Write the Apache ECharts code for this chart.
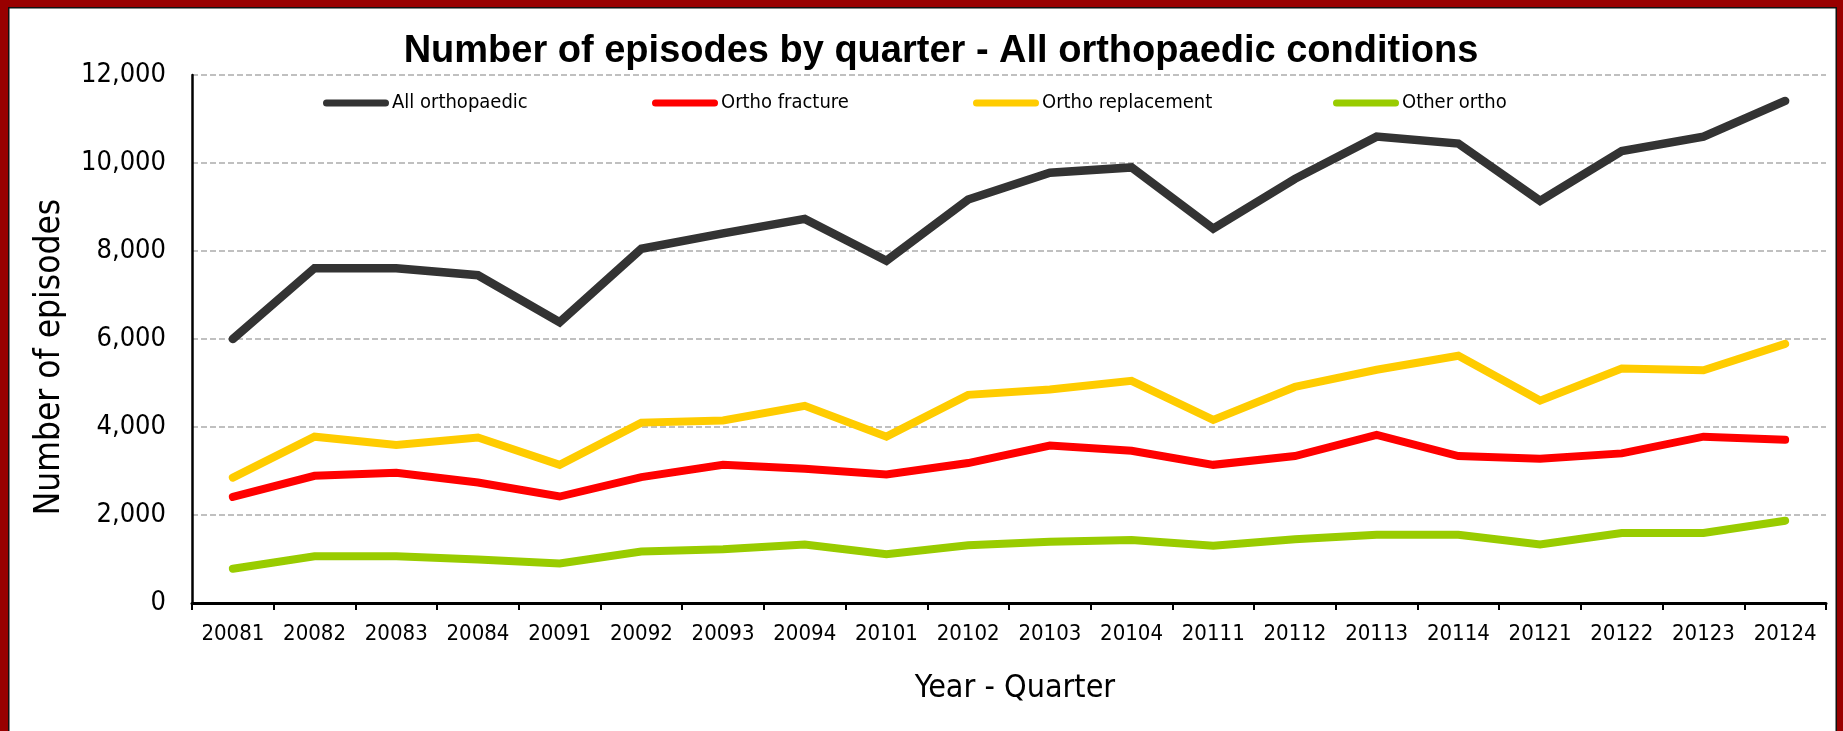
<!DOCTYPE html>
<html>
<head>
<meta charset="utf-8">
<title>Number of episodes by quarter</title>
<script src="https://cdn.jsdelivr.net/npm/echarts@6/dist/echarts.min.js"></script>
<style>
  html, body { margin: 0; padding: 0; background: #ffffff; }
  #chart { width: 1843px; height: 731px; }
</style>
</head>
<body>
<div id="chart"></div>
<script>
// Quarters (year + quarter number)
const categories = ['20081','20082','20083','20084','20091','20092','20093','20094','20101','20102',
                    '20103','20104','20111','20112','20113','20114','20121','20122','20123','20124'];

// Episodes per quarter
const allOrthopaedic   = [6000, 7610, 7610, 7450, 6380, 8050, 8400, 8730, 7780, 9170,
                          9780, 9900, 8510, 9640, 10600, 10440, 9140, 10270, 10600, 11410];
const orthoFracture    = [2410, 2890, 2960, 2740, 2420, 2860, 3140, 3050, 2920, 3180,
                          3580, 3460, 3140, 3340, 3820, 3340, 3280, 3400, 3780, 3710];
const orthoReplacement = [2850, 3780, 3590, 3760, 3140, 4100, 4150, 4480, 3780, 4730,
                          4850, 5050, 4160, 4910, 5300, 5620, 4600, 5330, 5290, 5890];
const otherOrtho       = [780, 1060, 1060, 990, 900, 1170, 1220, 1330, 1110, 1310,
                          1390, 1430, 1300, 1450, 1550, 1550, 1330, 1590, 1590, 1870];

const seriesNames  = ['All orthopaedic', 'Ortho fracture', 'Ortho replacement', 'Other ortho'];
const seriesColors = ['#333333', '#ff0000', '#ffcc00', '#99cc00'];
const seriesData   = [allOrthopaedic, orthoFracture, orthoReplacement, otherOrtho];
const yTicks = { min: 0, max: 12000, interval: 2000 };

const NARROW = "'Liberation Sans Narrow', 'Arial Narrow', 'DejaVu Sans Condensed', 'Liberation Sans', sans-serif";
const BOLD = "'Liberation Sans', Arial, sans-serif";

const legendLeft = [318, 647, 968, 1328];
const legendIcon = 'path://M3.5,0 L62.5,0 A3.5,3.5 0 0 1 62.5,7 L3.5,7 A3.5,3.5 0 0 1 3.5,0 Z';

const chart = echarts.init(document.getElementById('chart'), null, { renderer: 'canvas' });

const option = {
  backgroundColor: '#ffffff',
  animation: false,
  title: {
    text: 'Number of episodes by quarter - All orthopaedic conditions',
    left: 936,
    textAlign: 'center',
    top: 28,
    textStyle: { fontFamily: BOLD, fontWeight: 'bold', fontSize: 38, color: '#000000' }
  },
  legend: seriesNames.map((name, i) => ({
    data: [name],
    left: legendLeft[i],
    top: 88,
    icon: legendIcon,
    itemWidth: 66,
    itemHeight: 7,
    itemGap: 0,
    textStyle: { fontFamily: NARROW, fontSize: 20, color: '#000000', padding: [0, 0, 0, -2] },
    selectedMode: false
  })),
  grid: { left: 192, right: 17, top: 75, bottom: 128, containLabel: false },
  xAxis: {
    type: 'category',
    data: categories,
    boundaryGap: true,
    axisLine: { show: true, lineStyle: { color: '#000000', width: 3 } },
    axisTick: { show: true, alignWithLabel: false, length: 7, lineStyle: { color: '#000000', width: 2 } },
    axisLabel: { interval: 0, margin: 20, fontFamily: NARROW, fontSize: 22, color: '#000000' },
    splitLine: { show: false }
  },
  yAxis: {
    type: 'value',
    min: yTicks.min,
    max: yTicks.max,
    interval: yTicks.interval,
    axisLine: { show: true, lineStyle: { color: '#000000', width: 2.5 } },
    axisTick: { show: false },
    axisLabel: {
      margin: 26,
      fontFamily: NARROW,
      fontSize: 27,
      color: '#000000',
      formatter: v => v.toLocaleString('en-US')
    },
    splitLine: { show: true, lineStyle: { color: '#c0c0c0', width: 2, type: [6, 3] } }
  },
  series: seriesNames.map((name, i) => ({
    name: name,
    type: 'line',
    data: seriesData[i],
    color: seriesColors[i],
    symbol: 'none',
    lineStyle: { color: seriesColors[i], width: i === 0 ? 8.5 : 8, cap: 'round', join: 'miter' },
    z: 10 - i
  })),
  graphic: [
    // axis titles
    {
      type: 'text', z: 50, x: 1015, y: 689,
      style: { text: 'Year - Quarter', fontFamily: NARROW, fontSize: 32, fill: '#000000',
               textAlign: 'center', textVerticalAlign: 'middle' }
    },
    {
      type: 'text', z: 50, x: 50, y: 357, rotation: Math.PI / 2,
      style: { text: 'Number of episodes', fontFamily: NARROW, fontSize: 35, fill: '#000000',
               textAlign: 'center', textVerticalAlign: 'middle' }
    },
    // dark red frame with thin black inner edge
    { type: 'rect', z: 100, shape: { x: 0, y: 0, width: 1843, height: 7 }, style: { fill: '#990000' } },
    { type: 'rect', z: 100, shape: { x: 8, y: 7, width: 1828, height: 1.5 }, style: { fill: '#111111' } },
    { type: 'rect', z: 100, shape: { x: 0, y: 0, width: 8, height: 731 }, style: { fill: '#990000' } },
    { type: 'rect', z: 100, shape: { x: 8, y: 7, width: 1.5, height: 724 }, style: { fill: '#111111' } },
    { type: 'rect', z: 100, shape: { x: 1837, y: 0, width: 6, height: 731 }, style: { fill: '#990000' } },
    { type: 'rect', z: 100, shape: { x: 1835.5, y: 7, width: 1.5, height: 724 }, style: { fill: '#111111' } }
  ]
};

chart.setOption(option);
</script>
</body>
</html>
